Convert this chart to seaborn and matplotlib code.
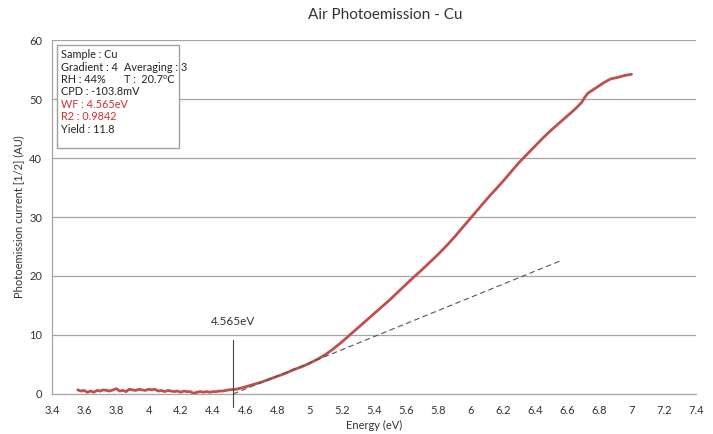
import numpy as np
import pandas as pd
import matplotlib
matplotlib.use("Agg")
import matplotlib.pyplot as plt
from matplotlib.patches import Rectangle
from matplotlib.ticker import MultipleLocator, FuncFormatter
import seaborn as sns

# ---- data ----
base_energy = [3.56, 3.58, 3.60, 3.62, 3.64, 3.66, 3.68, 3.70, 3.72, 3.74, 3.76, 3.78,
               3.80, 3.82, 3.84, 3.86, 3.88, 3.90, 3.92, 3.94, 3.96, 3.98, 4.00, 4.02,
               4.04, 4.06, 4.08, 4.10, 4.12, 4.14, 4.16, 4.18, 4.20, 4.22, 4.24, 4.26,
               4.28, 4.30, 4.32, 4.34, 4.36, 4.38, 4.40, 4.42, 4.44, 4.46, 4.48, 4.50]
base_current = [0.7, 0.5, 0.6, 0.3, 0.5, 0.3, 0.6, 0.5, 0.7, 0.6, 0.5, 0.7,
                0.9, 0.5, 0.6, 0.4, 0.8, 0.7, 0.6, 0.8, 0.7, 0.6, 0.8, 0.7,
                0.8, 0.5, 0.6, 0.4, 0.6, 0.5, 0.4, 0.5, 0.3, 0.5, 0.4, 0.4,
                0.1, 0.3, 0.4, 0.3, 0.4, 0.3, 0.4, 0.4, 0.5, 0.5, 0.6, 0.7]
rise_energy = [4.52, 4.54, 4.56, 4.58, 4.60, 4.65, 4.70, 4.75, 4.80, 4.85, 4.90, 4.95,
               5.00, 5.05, 5.10, 5.15, 5.20, 5.25, 5.30, 5.35, 5.40, 5.45, 5.50, 5.55,
               5.60, 5.655, 5.70, 5.75, 5.80, 5.85, 5.90, 5.95, 6.00, 6.05, 6.10, 6.15,
               6.20, 6.25, 6.30, 6.35, 6.40, 6.45, 6.50, 6.55, 6.60, 6.65, 6.69, 6.71,
               6.73, 6.78, 6.83, 6.87, 6.92, 6.96, 7.00]
rise_current = [0.75, 0.8, 0.9, 1.05, 1.2, 1.6, 2.0, 2.5, 3.0, 3.5, 4.1, 4.6,
                5.2, 5.9, 6.7, 7.7, 8.8, 10.0, 11.2, 12.4, 13.6, 14.8, 16.0, 17.3,
                18.6, 20.0, 21.1, 22.4, 23.7, 25.1, 26.6, 28.2, 29.8, 31.4, 33.0, 34.5,
                36.0, 37.6, 39.2, 40.6, 42.0, 43.4, 44.7, 45.9, 47.1, 48.3, 49.4, 50.3,
                51.0, 51.9, 52.8, 53.4, 53.7, 54.0, 54.2]
fit_energy = [4.525, 6.57]
fit_current = [0.0, 22.7]
wf_line_x = 4.525
wf_label = "4.565eV"
info_lines = [
    ("Sample : Cu", None, "#222222"),
    ("Gradient : 4", "Averaging : 3", "#222222"),
    ("RH : 44%", "T :  20.7ºC", "#222222"),
    ("CPD : -103.8mV", None, "#222222"),
    ("WF : 4.565eV", None, "#d0312d"),
    ("R2 : 0.9842", None, "#d0312d"),
    ("Yield : 11.8", None, "#222222"),
]

df = pd.DataFrame({"Energy": base_energy + rise_energy,
                   "Current": base_current + rise_current})

sns.set_style("white")
plt.rcParams['font.family'] = ['Lato', 'DejaVu Sans']

fig = plt.figure(figsize=(7.13, 4.34), dpi=100)
ax = fig.add_axes([0.0729, 0.0922, 0.9031, 0.8156])

grid_c = "#a6a6a6"
for yv in [10, 20, 30, 40, 50, 60]:
    ax.axhline(yv, color=grid_c, lw=0.9, zorder=0)

sns.lineplot(data=df, x="Energy", y="Current", ax=ax, color="#c0504d", lw=2.0,
             sort=False, zorder=3)
ax.plot(fit_energy, fit_current, color="#555555", lw=0.8, ls=(0, (5, 3)), zorder=4)
ax.plot([wf_line_x, wf_line_x], [-2.2, 9.2], color="#444444", lw=0.8, clip_on=False, zorder=5)
ax.text(wf_line_x, 11.3, wf_label, ha="center", va="bottom", fontsize=8.5, color="#333333")

ax.set_xlim(3.4, 7.4)
ax.set_ylim(0, 60)
ax.xaxis.set_major_locator(MultipleLocator(0.2))
ax.xaxis.set_minor_locator(MultipleLocator(0.1))
ax.yaxis.set_major_locator(MultipleLocator(10))
ax.xaxis.set_major_formatter(FuncFormatter(lambda v, p: f"{v:g}"))

for s in ["top", "right"]:
    ax.spines[s].set_visible(False)
for s in ["left", "bottom"]:
    ax.spines[s].set_color(grid_c)
    ax.spines[s].set_linewidth(0.9)

ax.tick_params(axis="both", which="major", direction="out", length=4, width=0.8,
               color=grid_c, labelsize=8, labelcolor="#333333")
ax.tick_params(axis="x", which="minor", direction="out", length=3, width=0.8, color=grid_c)
ax.tick_params(axis="x", pad=4)
ax.tick_params(axis="y", pad=3)

ax.set_xlabel("Energy (eV)", fontsize=8, color="#333333", labelpad=3)
ax.set_ylabel("Photoemission current [1/2] (AU)", fontsize=8, color="#333333", labelpad=4)
fig.text(0.54, 0.965, "Air Photoemission - Cu", ha="center", va="center",
         fontsize=11, color="#333333")

# info box
box = Rectangle((3.43, 41.7), 0.76, 17.5, transform=ax.transData, fill=True,
                facecolor="white", edgecolor="#a0a0a0", lw=1.0, zorder=6)
ax.add_patch(box)
y0 = 57.5
dy = 2.1
for i, (t1, t2, c) in enumerate(info_lines):
    yy = y0 - i * dy
    ax.text(3.455, yy, t1, fontsize=7.8, color=c, va="center", ha="left", zorder=7)
    if t2:
        ax.text(3.845, yy, t2, fontsize=7.8, color=c, va="center", ha="left", zorder=7)

fig.savefig("out.png", dpi=100)
